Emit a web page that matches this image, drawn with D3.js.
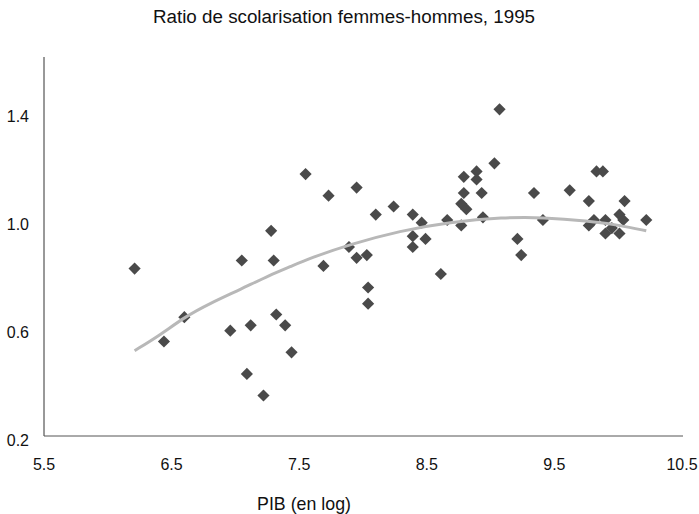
<!DOCTYPE html>
<html>
<head>
<meta charset="utf-8">
<script src="https://cdn.jsdelivr.net/npm/d3@7"></script>
<style>
  body { margin: 0; background: #fff; }
  text { font-family: "Liberation Sans", Arial, sans-serif; fill: #111; }
</style>
</head>
<body>
<svg id="chart" width="699" height="514"></svg>
<script>
// PIB (log) for each country
const pib = [
  6.21, 6.44, 6.60, 6.96, 7.05, 7.09, 7.12, 7.22, 7.28, 7.30,
  7.32, 7.39, 7.44, 7.55, 7.73, 7.95, 7.69, 7.89, 7.95, 8.03,
  8.04, 8.04, 8.10, 8.24, 8.39, 8.46, 8.39, 8.49, 8.39, 8.61,
  8.66, 8.77, 8.77, 8.81, 8.79, 8.79, 8.89, 8.89, 8.93, 8.94,
  9.03, 9.07, 9.21, 9.24, 9.34, 9.41, 9.62, 9.77, 9.83, 9.88,
  10.05, 10.22, 9.77, 9.81, 9.90, 10.01, 10.04, 9.90, 10.01, 9.95
];

// ratio femmes-hommes
const ratio = [
  0.82, 0.55, 0.64, 0.59, 0.85, 0.43, 0.61, 0.35, 0.96, 0.85,
  0.65, 0.61, 0.51, 1.17, 1.09, 1.12, 0.83, 0.90, 0.86, 0.87,
  0.75, 0.69, 1.02, 1.05, 1.02, 0.99, 0.94, 0.93, 0.90, 0.80,
  1.00, 1.06, 0.98, 1.04, 1.10, 1.16, 1.18, 1.15, 1.10, 1.01,
  1.21, 1.41, 0.93, 0.87, 1.10, 1.00, 1.11, 1.07, 1.18, 1.18,
  1.07, 1.00, 0.98, 1.00, 1.00, 1.02, 1.00, 0.95, 0.95, 0.97
];

// polynomial trend line
const trendX = [6.21, 6.41, 6.60, 6.80, 7.04, 7.27, 7.43, 7.58, 7.90, 8.29, 8.68, 9.10, 9.41, 9.76, 10.01, 10.22];
const trendY = [0.516, 0.574, 0.640, 0.691, 0.743, 0.796, 0.827, 0.858, 0.910, 0.960, 0.992, 1.010, 1.010, 0.997, 0.981, 0.960];

const xTicks = [5.5, 6.5, 7.5, 8.5, 9.5, 10.5];
const yTicks = [0.2, 0.6, 1.0, 1.4];

const svg = d3.select('#chart');

const x = d3.scaleLinear().domain([5.5, 10.5]).range([44, 682]);
const y = d3.scaleLinear().domain([0.2, 1.6]).range([436, 58]);

// title
svg.append('text')
  .attr('x', 344)
  .attr('y', 23)
  .attr('text-anchor', 'middle')
  .style('font-size', '18.8px')
  .text('Ratio de scolarisation femmes-hommes, 1995');

// axes (lines only, labels placed by hand below)
svg.append('line')
  .attr('x1', x(5.5)).attr('x2', x(5.5))
  .attr('y1', 57).attr('y2', y(0.2))
  .attr('stroke', '#333');

svg.append('line')
  .attr('x1', x(5.5)).attr('x2', 683)
  .attr('y1', y(0.2)).attr('y2', y(0.2))
  .attr('stroke', '#555');

svg.append('g')
  .selectAll('text')
  .data(yTicks)
  .enter()
  .append('text')
  .attr('x', 29)
  .attr('y', d => y(d) + 9.5)
  .attr('text-anchor', 'end')
  .style('font-size', '16px')
  .text(d => d3.format('.1f')(d));

svg.append('g')
  .selectAll('text')
  .data(xTicks)
  .enter()
  .append('text')
  .attr('x', d => x(d))
  .attr('y', 470)
  .attr('text-anchor', 'middle')
  .style('font-size', '16px')
  .text(d => d3.format('.1f')(d));

svg.append('text')
  .attr('x', 304)
  .attr('y', 510)
  .attr('text-anchor', 'middle')
  .style('font-size', '17.8px')
  .text('PIB (en log)');

// points
const diamond = d3.symbol().type(d3.symbolSquare).size(74);

svg.append('g')
  .selectAll('path')
  .data(d3.range(pib.length))
  .enter()
  .append('path')
  .attr('d', diamond)
  .attr('transform', i => `translate(${x(pib[i])},${y(ratio[i])}) rotate(45)`)
  .attr('fill', '#4a4a4a');

// trend line drawn over the points
const line = d3.line()
  .x(i => x(trendX[i]))
  .y(i => y(trendY[i]))
  .curve(d3.curveBasis);

svg.append('path')
  .attr('d', line(d3.range(trendX.length)))
  .attr('fill', 'none')
  .attr('stroke', '#b8b8b8')
  .attr('stroke-width', 3);
</script>
</body>
</html>
